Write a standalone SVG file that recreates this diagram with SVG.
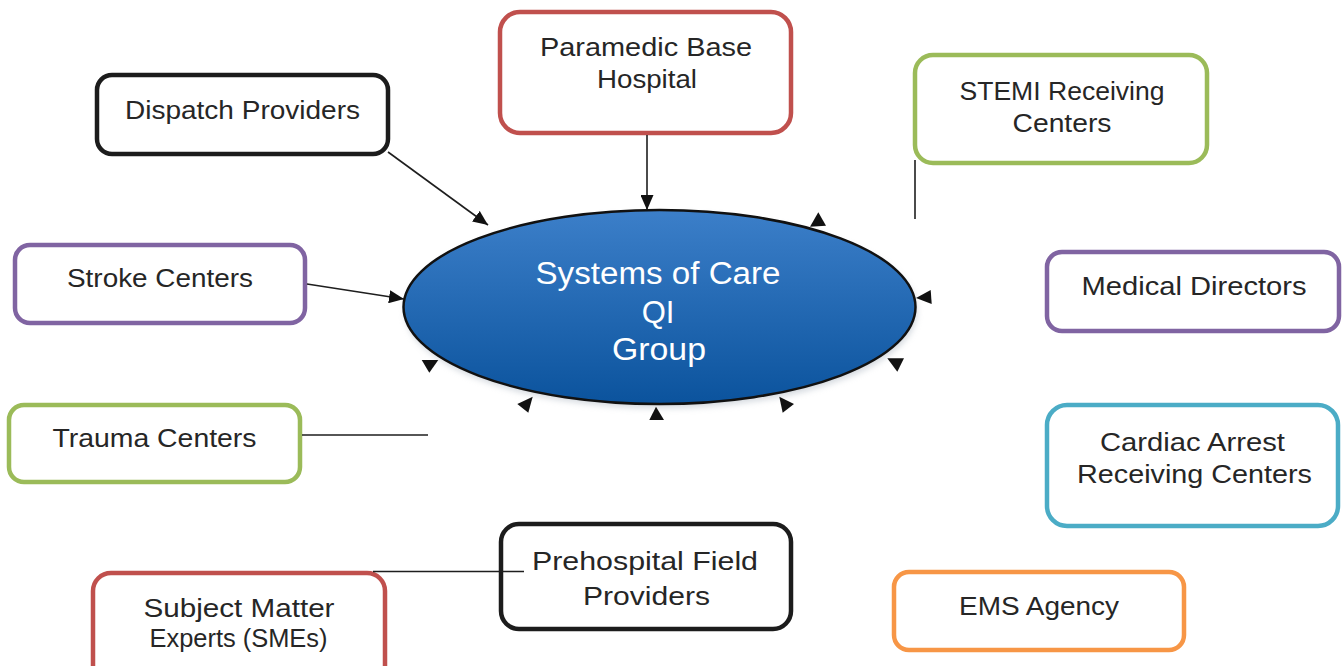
<svg xmlns="http://www.w3.org/2000/svg" width="1343" height="666" viewBox="0 0 1343 666">
<style>
.box{fill:#fff;stroke-width:4.5}
.blk{stroke:#1c1c1c}.red{stroke:#c0504d}.grn{stroke:#9bbb59}.pur{stroke:#8064a2}.cyn{stroke:#4bacc6}.org{stroke:#f79646}
.t{font-family:"Liberation Sans",Arial,sans-serif;font-size:26px;fill:#262626;text-anchor:middle}
.w{font-family:"Liberation Sans",Arial,sans-serif;font-size:31px;fill:#fff;text-anchor:middle}
.ln{stroke:#1e1e1e;stroke-width:1.6;fill:none}
.ah{fill:#111}
</style>
<defs>
<linearGradient id="g" x1="0" y1="0" x2="0" y2="1">
<stop offset="0" stop-color="#3c7fc9"/>
<stop offset="1" stop-color="#0b539d"/>
</linearGradient>
<filter id="sh" x="-10%" y="-10%" width="120%" height="130%"><feGaussianBlur stdDeviation="3"/></filter>
<marker id="arr" markerUnits="userSpaceOnUse" viewBox="0 0 15 13" markerWidth="15" markerHeight="13" refX="15" refY="6.5" orient="auto"><path d="M0,0 L15,6.5 L0,13 z" fill="#111"/></marker>
</defs>

<g id="center">
<ellipse cx="661" cy="311" rx="256" ry="97" fill="#a8b2be" opacity="0.5" filter="url(#sh)"/>
<ellipse cx="659.5" cy="307" rx="256" ry="97" fill="url(#g)" stroke="#111" stroke-width="2.5"/>
<text class="w" x="658" y="284" textLength="245" lengthAdjust="spacingAndGlyphs">Systems of Care</text>
<text class="w" x="658" y="323">QI</text>
<text class="w" x="659" y="360" textLength="94" lengthAdjust="spacingAndGlyphs">Group</text>
</g>

<g id="dispatch">
<rect class="box blk" x="97" y="75" width="291" height="79" rx="15"/>
<text class="t" x="242.5" y="119" textLength="235" lengthAdjust="spacingAndGlyphs">Dispatch Providers</text>
</g>
<g id="paramedic">
<rect class="box red" x="500" y="12" width="291" height="121" rx="20"/>
<text class="t" x="646" y="56" textLength="212" lengthAdjust="spacingAndGlyphs">Paramedic Base</text>
<text class="t" x="647" y="88" textLength="100" lengthAdjust="spacingAndGlyphs">Hospital</text>
</g>
<g id="stemi">
<rect class="box grn" x="915" y="55" width="292" height="108" rx="18"/>
<text class="t" x="1062" y="100" textLength="205" lengthAdjust="spacingAndGlyphs">STEMI Receiving</text>
<text class="t" x="1062" y="132" textLength="99" lengthAdjust="spacingAndGlyphs">Centers</text>
</g>
<g id="stroke">
<rect class="box pur" x="15" y="245" width="290" height="78" rx="15"/>
<text class="t" x="160" y="287" textLength="186" lengthAdjust="spacingAndGlyphs">Stroke Centers</text>
</g>
<g id="medical">
<rect class="box pur" x="1047" y="252" width="292" height="79" rx="15"/>
<text class="t" x="1194" y="295" textLength="225" lengthAdjust="spacingAndGlyphs">Medical Directors</text>
</g>
<g id="trauma">
<rect class="box grn" x="9" y="405" width="291" height="77" rx="15"/>
<text class="t" x="154.5" y="447" textLength="204" lengthAdjust="spacingAndGlyphs">Trauma Centers</text>
</g>
<g id="cardiac">
<rect class="box cyn" x="1047" y="405" width="291" height="121" rx="20"/>
<text class="t" x="1192.5" y="451" textLength="185" lengthAdjust="spacingAndGlyphs">Cardiac Arrest</text>
<text class="t" x="1194.5" y="483" textLength="235" lengthAdjust="spacingAndGlyphs">Receiving Centers</text>
</g>
<g id="prehospital">
<rect class="box blk" x="501" y="524" width="290" height="105" rx="18"/>
<text class="t" x="645" y="570" textLength="226" lengthAdjust="spacingAndGlyphs">Prehospital Field</text>
<text class="t" x="646.5" y="605" textLength="127" lengthAdjust="spacingAndGlyphs">Providers</text>
</g>
<g id="sme">
<rect class="box red" x="93" y="573" width="292" height="115" rx="18"/>
<text class="t" x="239" y="617" textLength="191" lengthAdjust="spacingAndGlyphs">Subject Matter</text>
<text class="t" x="238.5" y="647" textLength="178" lengthAdjust="spacingAndGlyphs">Experts (SMEs)</text>
</g>
<g id="ems">
<rect class="box org" x="894" y="572" width="290" height="78" rx="15"/>
<text class="t" x="1039" y="615" textLength="160" lengthAdjust="spacingAndGlyphs">EMS Agency</text>
</g>

<g id="connectors">
<line class="ln" x1="388" y1="152" x2="488" y2="225" marker-end="url(#arr)"/>
<line class="ln" x1="647" y1="135" x2="647" y2="210" marker-end="url(#arr)"/>
<line class="ln" x1="307" y1="284" x2="404" y2="299" marker-end="url(#arr)"/>
<line class="ln" x1="915" y1="160" x2="915" y2="219"/>
<line class="ln" x1="302" y1="435" x2="428" y2="435"/>
<line class="ln" x1="373" y1="571.5" x2="524" y2="571.5"/>
<polygon class="ah" points="818.3,212.3 810,226.7 826,225.7"/>
<polygon class="ah" points="916,298 930.7,290 931.7,304"/>
<polygon class="ah" points="887.3,358.3 904,358.3 897.3,371.7"/>
<polygon class="ah" points="779.3,396.7 794,404 782.7,412.7"/>
<polygon class="ah" points="656,406.7 649.3,420 664,420"/>
<polygon class="ah" points="532.7,396.7 517.3,404 528.3,412.7"/>
<polygon class="ah" points="421.7,360 438.3,360 429.3,372.7"/>
</g>
</svg>
